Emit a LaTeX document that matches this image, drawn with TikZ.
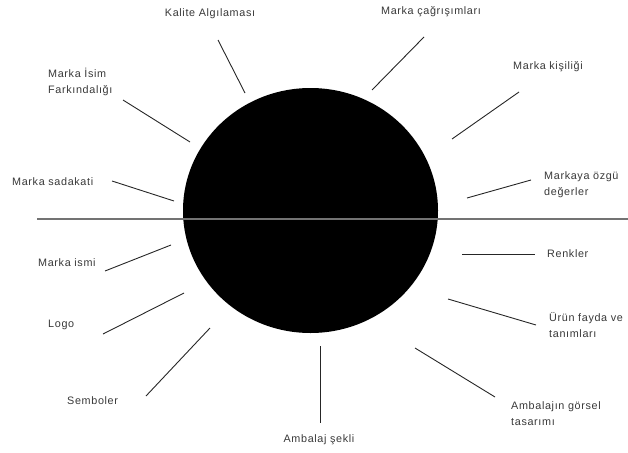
\documentclass[tikz,border=0pt]{standalone}
\usepackage{fontspec}
\setmainfont{Liberation Sans}
\newfontfamily\lblfont[LetterSpace=6]{Liberation Sans}
\begin{document}
\begin{tikzpicture}[x=1pt,y=-1pt,
  lbl/.style={inner sep=0pt,text=black!78,font=\lblfont\fontsize{10.8}{16}\selectfont,align=left},
  conn/.style={line width=0.9pt,draw=black!85}]
\useasboundingbox (0,0) rectangle (628,452);
% globe
\fill[black] (310.5,210.5) ellipse [x radius=127.5, y radius=122.5];
% horizon
\draw[line width=1.1pt,draw=black!55] (37,219) coordinate (hl) -- (628,219) coordinate (hr);
% labels
\node[lbl] (kalite) at (210,14) {Kalite Algılaması};
\node[lbl,anchor=west] (isim) at (48,82) {Marka İsim\\Farkındalığı};
\node[lbl,anchor=west] (sadakat) at (12,182) {Marka sadakati};
\node[lbl] (cag) at (431,12) {Marka çağrışımları};
\node[lbl,anchor=west] (kisilik) at (513,67) {Marka kişiliği};
\node[lbl,anchor=west] (ozgu) at (544,185) {Markaya özgü\\değerler};
\node[lbl,anchor=west] (ismi) at (38,263) {Marka ismi};
\node[lbl,anchor=west] (logo) at (48,325) {Logo};
\node[lbl,anchor=west] (semboler) at (67,401) {Semboler};
\node[lbl] (sekli) at (319,440) {Ambalaj şekli};
\node[lbl,anchor=west] (renkler) at (547,254) {Renkler};
\node[lbl,anchor=west] (fayda) at (549,325) {Ürün fayda ve\\tanımları};
\node[lbl,anchor=west] (gorsel) at (511,414) {Ambalajın görsel\\tasarımı};
% connector end points
\coordinate (k1) at (218,40);  \coordinate (k2) at (245,93);
\coordinate (i1) at (123,100); \coordinate (i2) at (190,142);
\coordinate (s1) at (112,181); \coordinate (s2) at (174,201);
\coordinate (c1) at (424,37);  \coordinate (c2) at (372,90);
\coordinate (p1) at (519,92);  \coordinate (p2) at (452,139);
\coordinate (o1) at (531,180); \coordinate (o2) at (467,198);
\coordinate (m1) at (105,271); \coordinate (m2) at (171,245);
\coordinate (l1) at (103,334); \coordinate (l2) at (184,293);
\coordinate (b1) at (146,396); \coordinate (b2) at (210,328);
\coordinate (a1) at (320,346); \coordinate (a2) at (320,423);
\coordinate (r1) at (462,254); \coordinate (r2) at (535,254);
\coordinate (f1) at (448,299); \coordinate (f2) at (536,325);
\coordinate (g1) at (415,348); \coordinate (g2) at (495,397);
\foreach \u/\v in {k1/k2,i1/i2,s1/s2,c1/c2,p1/p2,o1/o2,m1/m2,l1/l2,b1/b2,a1/a2,r1/r2,f1/f2,g1/g2}
  \draw[conn] (\u) -- (\v);
\end{tikzpicture}
\end{document}
